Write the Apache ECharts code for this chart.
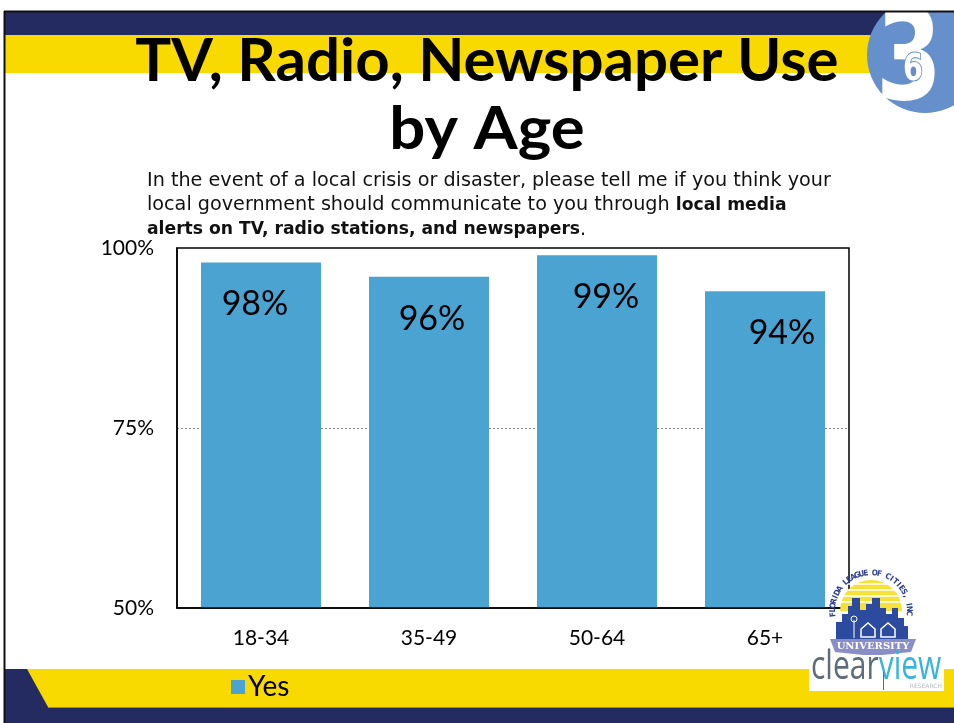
<!DOCTYPE html>
<html>
<head>
<meta charset="utf-8">
<script src="https://cdn.jsdelivr.net/npm/echarts@6/dist/echarts.min.js"></script>
<style>
  html, body { margin: 0; padding: 0; background: #ffffff; }
  #chart { width: 954px; height: 723px; }
</style>
</head>
<body>
<div id="chart"></div>
<script>
// Survey results: share answering "Yes" by age group
const categories = ['18-34', '35-49', '50-64', '65+'];
const yesValues = [98, 96, 99, 94];
const seriesName = 'Yes';
const yTicks = { min: 50, max: 100, step: 25 };

const titleLines = ['TV, Radio, Newspaper Use', 'by Age'];
const questionLines = [
  [{ t: 'In the event of a local crisis or disaster, please tell me if you think your', b: false }],
  [{ t: 'local government should communicate to you through ', b: false }, { t: 'local media', b: true }],
  [{ t: 'alerts on TV, radio stations, and newspapers', b: true }, { t: '.', b: false }]
];

const NAVY = '#232B60';
const YELLOW = '#F8D900';
const BAR = '#4AA3D1';
const BODY_FONT = 'Lato, "Open Sans", sans-serif';
// small horizontal nudges of the value labels inside each bar
const labelNudge = [-6, 3, 9, 17];

const chart = echarts.init(document.getElementById('chart'), null, { renderer: 'canvas' });

// slide decoration: header bands, badge, footer bands, logo
const graphics = [];

// header bands
graphics.push({ type: 'rect', z: 0, shape: { x: 5, y: 12, width: 949, height: 23 }, style: { fill: NAVY } });
graphics.push({ type: 'rect', z: 0, shape: { x: 5, y: 35, width: 949, height: 38 }, style: { fill: YELLOW } });

// footer bands
graphics.push({ type: 'rect', z: 0, shape: { x: 5, y: 669, width: 949, height: 38 }, style: { fill: YELLOW } });
graphics.push({ type: 'polygon', z: 0, shape: { points: [[5, 669], [27, 669], [48, 707], [5, 707]] }, style: { fill: NAVY } });
graphics.push({ type: 'rect', z: 0, shape: { x: 5, y: 707, width: 949, height: 16 }, style: { fill: NAVY } });
graphics.push({ type: 'line', z: 0, shape: { x1: 48, y1: 707.5, x2: 954, y2: 707.5 }, style: { stroke: '#8a8a7a', lineWidth: 1 } });

// section badge
graphics.push({ type: 'circle', z: 2, shape: { cx: 925, cy: 55, r: 58 }, style: { fill: '#6690CC' } });
graphics.push({
  type: 'text', z: 3, x: 909, y: 66, scaleX: 0.95, scaleY: 1.27,
  style: { x: 0, y: 0, text: '3', fill: '#ffffff', font: 'bold 100px "DejaVu Sans", sans-serif', textAlign: 'center', textVerticalAlign: 'middle' }
});
graphics.push({
  type: 'text', z: 4, x: 913, y: 70, scaleX: 0.8, scaleY: 1.05,
  style: { x: 0, y: 0, text: '6', fill: '#ffffff', stroke: '#6690CC', lineWidth: 2, font: 'bold 36px "DejaVu Sans", sans-serif', textAlign: 'center', textVerticalAlign: 'middle' }
});
// white strip above the slide, and the slide's top and left edges
graphics.push({ type: 'rect', z: 5, shape: { x: 0, y: 0, width: 954, height: 11 }, style: { fill: '#ffffff' } });
graphics.push({ type: 'line', z: 6, shape: { x1: 4, y1: 11.5, x2: 954, y2: 11.5 }, style: { stroke: '#111', lineWidth: 2 } });
graphics.push({ type: 'line', z: 6, shape: { x1: 4.5, y1: 11, x2: 4.5, y2: 723 }, style: { stroke: '#111', lineWidth: 2 } });

// title
graphics.push({ type: 'text', z: 5, style: { x: 487, y: 62, text: titleLines[0], fill: '#000', font: 'bold 60px Lato, sans-serif', textAlign: 'center', textVerticalAlign: 'middle' } });
graphics.push({
  type: 'text', z: 5, x: 487, y: 130, scaleX: 1.06,
  style: { x: 0, y: 0, text: titleLines[1], fill: '#000', font: 'bold 60px Lato, sans-serif', textAlign: 'center', textVerticalAlign: 'middle' }
});

// question text, built from rich segments
questionLines.forEach(function (segs, i) {
  const text = segs.map(function (s) { return '{' + (s.b ? 'b' : 'r') + '|' + s.t + '}'; }).join('');
  graphics.push({
    type: 'text', z: 5,
    style: {
      x: 147, y: 181 + i * 24.5, text: text, textVerticalAlign: 'middle',
      rich: {
        r: { font: '19.2px "DejaVu Sans", sans-serif', fill: '#111' },
        b: { font: 'bold 17.2px "DejaVu Sans", sans-serif', fill: '#111' }
      }
    }
  });
});

// logo: sun, lettered ring, skyline, banner, wordmark
graphics.push({ type: 'sector', z: 6, shape: { cx: 871, cy: 611, r0: 0, r: 31, startAngle: Math.PI, endAngle: 2 * Math.PI }, style: { fill: '#F6E13A' } });
[584, 590, 596, 602].forEach(function (yy) {
  graphics.push({ type: 'line', z: 7, shape: { x1: 838, y1: yy, x2: 904, y2: yy }, style: { stroke: '#ffffff', lineWidth: 1.6 } });
});
const arcText = 'FLORIDA LEAGUE OF CITIES, INC';
const arcFrom = Math.PI * 0.97, arcTo = Math.PI * 2.02;
for (let i = 0; i < arcText.length; i++) {
  const ang = arcFrom + (arcTo - arcFrom) * i / (arcText.length - 1);
  graphics.push({
    type: 'text', z: 7,
    x: 871 + 38 * Math.cos(ang), y: 611 + 38 * Math.sin(ang),
    rotation: -(ang + Math.PI / 2),
    style: { x: 0, y: 0, text: arcText[i], fill: '#2B3E8F', font: 'bold 8px "DejaVu Sans Condensed", "DejaVu Sans", sans-serif', textAlign: 'center', textVerticalAlign: 'middle' }
  });
}
graphics.push({
  type: 'polygon', z: 8,
  shape: { points: [[836, 640], [836, 622], [842, 622], [842, 614], [848, 614], [848, 606], [852, 606], [852, 598], [860, 598], [860, 610], [866, 610], [866, 604], [872, 604], [872, 598], [880, 598], [880, 608], [886, 608], [886, 614], [892, 614], [892, 608], [898, 608], [898, 618], [904, 618], [904, 626], [908, 626], [908, 640]] },
  style: { fill: '#2D4B9E' }
});
[[868, 629], [888, 629]].forEach(function (p) {
  graphics.push({ type: 'polygon', z: 9, shape: { points: [[p[0] - 7, p[1] + 8], [p[0] - 7, p[1]], [p[0], p[1] - 6], [p[0] + 7, p[1]], [p[0] + 7, p[1] + 8]] }, style: { fill: 'none', stroke: '#ffffff', lineWidth: 1.5 } });
});
graphics.push({ type: 'line', z: 9, shape: { x1: 854, y1: 638, x2: 854, y2: 620 }, style: { stroke: '#ffffff', lineWidth: 1 } });
graphics.push({ type: 'circle', z: 9, shape: { cx: 854, cy: 619, r: 3 }, style: { fill: 'none', stroke: '#ffffff', lineWidth: 1 } });
graphics.push({ type: 'polygon', z: 9, shape: { points: [[830, 639], [916, 639], [911, 652], [873, 656], [835, 652]] }, style: { fill: '#8A8EC6' } });
graphics.push({ type: 'text', z: 10, style: { x: 873, y: 646, text: 'UNIVERSITY', fill: '#ffffff', font: 'bold 10px "DejaVu Serif", serif', textAlign: 'center', textVerticalAlign: 'middle' } });
graphics.push({ type: 'rect', z: 9, shape: { x: 809, y: 655, width: 135, height: 36 }, style: { fill: '#ffffff' } });
graphics.push({
  type: 'text', z: 10, x: 811, y: 668, scaleX: 0.75, scaleY: 1,
  style: {
    x: 0, y: 0, text: '{c|clear}{v|view}', textVerticalAlign: 'middle',
    rich: {
      c: { font: '40px "Open Sans", sans-serif', fill: '#5D6C79' },
      v: { font: '40px "Open Sans", sans-serif', fill: '#38B2DF' }
    }
  }
});
graphics.push({ type: 'line', z: 10, shape: { x1: 883.5, y1: 672, x2: 883.5, y2: 690 }, style: { stroke: '#5D6C79', lineWidth: 1 } });
graphics.push({ type: 'text', z: 10, style: { x: 942, y: 686, text: 'RESEARCH', fill: '#b8bcc0', font: '6px "DejaVu Sans", sans-serif', textAlign: 'right', textVerticalAlign: 'middle' } });

chart.setOption({
  animation: false,
  backgroundColor: '#ffffff',
  grid: {
    left: 177, right: 105, top: 248, bottom: 115,
    show: true, borderColor: '#000000', borderWidth: 1.5, backgroundColor: 'transparent', z: 3
  },
  legend: {
    data: [seriesName],
    left: 226, top: 668,
    itemWidth: 14, itemHeight: 14, itemGap: 5,
    icon: 'rect',
    textStyle: { fontFamily: BODY_FONT, fontSize: 28, color: '#000', padding: [0, 0, 0, -2] },
    z: 12
  },
  xAxis: {
    type: 'category',
    data: categories,
    axisLine: { show: true, lineStyle: { color: '#000', width: 1.5 } },
    axisTick: { show: false },
    axisLabel: { fontFamily: BODY_FONT, fontSize: 21, color: '#000', margin: 20 }
  },
  yAxis: {
    type: 'value',
    min: yTicks.min, max: yTicks.max, interval: yTicks.step,
    axisLine: { show: true, lineStyle: { color: '#000', width: 1.5 } },
    axisTick: { show: false },
    axisLabel: { fontFamily: BODY_FONT, fontSize: 21, color: '#000', margin: 23, formatter: '{value}%' },
    splitLine: { show: true, lineStyle: { type: [2, 2], width: 1, color: ['rgba(0,0,0,0)', '#8c8c8c', 'rgba(0,0,0,0)'] } }
  },
  series: [{
    name: seriesName,
    type: 'bar',
    data: yesValues.map(function (v, i) {
      return { value: v, label: { offset: [labelNudge[i], 0] } };
    }),
    barWidth: 120,
    itemStyle: { color: BAR },
    label: {
      show: true, position: 'insideTop', distance: 25,
      formatter: '{c}%', fontFamily: BODY_FONT, fontSize: 34, color: '#000'
    },
    z: 2
  }],
  graphic: graphics
});
</script>
</body>
</html>
